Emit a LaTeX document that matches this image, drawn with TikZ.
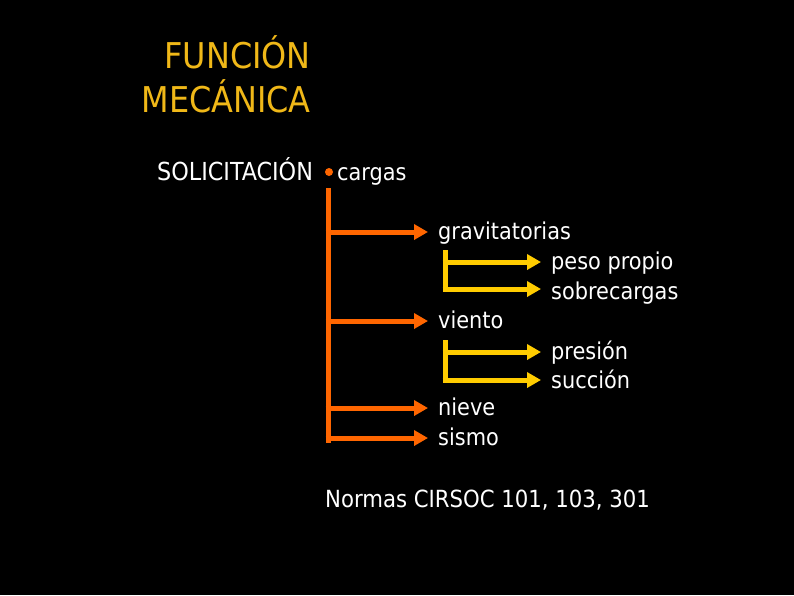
\documentclass[tikz,border=0pt]{standalone}
\usepackage{fontspec}
\setmainfont{DejaVu Sans Condensed}
\usetikzlibrary{arrows.meta}
\definecolor{titleyel}{RGB}{240,184,24}
\definecolor{orng}{RGB}{255,102,0}
\definecolor{yel}{RGB}{255,204,0}
\tikzset{
  txt/.style={text=white,inner sep=0pt,anchor=base west,font=\fontsize{23.2}{27}\selectfont},
  ttl/.style={text=titleyel,inner sep=0pt,anchor=base east,font=\fontsize{35.5}{40}\selectfont},
  oarrow/.style={draw=orng,line width=5pt,-{Triangle[length=14pt,width=15pt]}},
  yarrow/.style={draw=yel,line width=5pt,-{Triangle[length=14pt,width=15pt]}},
  oline/.style={draw=orng,line width=5pt},
  yline/.style={draw=yel,line width=5pt}
}
\begin{document}
\begin{tikzpicture}[x=1pt,y=-1pt]
\fill[black] (0,0) rectangle (794,595);
\useasboundingbox (0,0) rectangle (794,595);
% title
\node[ttl] (t1) at (311,68) {FUNCIÓN};
\node[ttl] (t2) at (311,112) {MECÁNICA};
% solicitacion
\node[txt,font=\fontsize{24.8}{28}\selectfont] (sol) at (157,180) {SOLICITACIÓN};
\fill[orng] (329,172) circle (4) node (bul) {};
\node[txt] (car) at (337,180) {cargas};
% orange trunk
\coordinate (otop) at (328,188);
\coordinate (obot) at (328,443);
\draw[oline] (otop) -- (obot);
\coordinate (o1) at (328,232);
\coordinate (o2) at (328,321);
\coordinate (o3) at (328,408);
\coordinate (o4) at (328,438);
\coordinate (e1) at (428,232);
\coordinate (e2) at (428,321);
\coordinate (e3) at (428,408);
\coordinate (e4) at (428,438);
\draw[oarrow] ([xshift=-2.5pt]o1) -- (e1);
\draw[oarrow] ([xshift=-2.5pt]o2) -- (e2);
\draw[oarrow] ([xshift=-2.5pt]o3) -- (e3);
\draw[oarrow] ([xshift=-2.5pt]o4) -- (e4);
\node[txt] (grav) at (438,239) {gravitatorias};
\node[txt] (vien) at (438,328) {viento};
\node[txt] (niev) at (438,415) {nieve};
\node[txt] (sism) at (438,445) {sismo};
% yellow branch 1
\coordinate (y1t) at (445,250);
\coordinate (y1a) at (445,262);
\coordinate (y1b) at (445,289);
\coordinate (p1) at (541,262);
\coordinate (p2) at (541,289);
\draw[yline] (y1t) -- ([yshift=2.5pt]y1b);
\draw[yarrow] ([xshift=-2.5pt]y1a) -- (p1);
\draw[yarrow] ([xshift=-2.5pt]y1b) -- (p2);
\node[txt] (peso) at (551,269) {peso propio};
\node[txt] (sobr) at (551,299) {sobrecargas};
% yellow branch 2
\coordinate (y2t) at (445,340);
\coordinate (y2a) at (445,352);
\coordinate (y2b) at (445,380);
\coordinate (q1) at (541,352);
\coordinate (q2) at (541,380);
\draw[yline] (y2t) -- ([yshift=2.5pt]y2b);
\draw[yarrow] ([xshift=-2.5pt]y2a) -- (q1);
\draw[yarrow] ([xshift=-2.5pt]y2b) -- (q2);
\node[txt] (pres) at (551,359) {presión};
\node[txt] (succ) at (551,388) {succión};
% normas
\node[txt,font=\fontsize{23.6}{28}\selectfont] (norm) at (325,507) {Normas CIRSOC 101, 103, 301};
\end{tikzpicture}
\end{document}
